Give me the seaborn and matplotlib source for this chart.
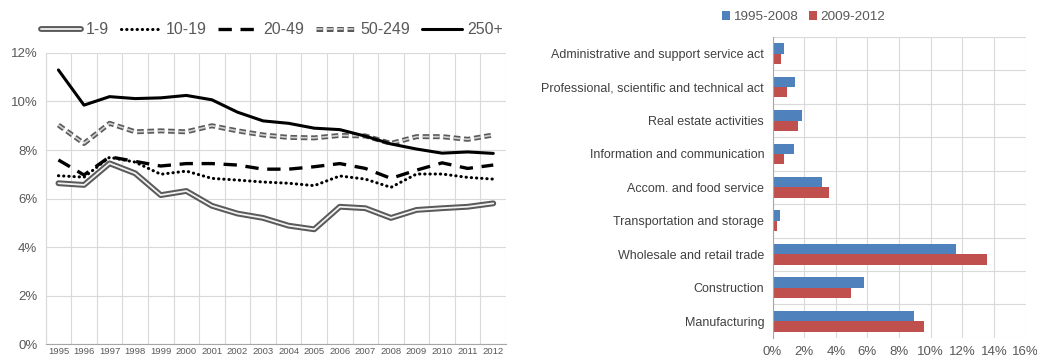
import numpy as np
import pandas as pd
import matplotlib
matplotlib.use("Agg")
import matplotlib.pyplot as plt
import matplotlib.patheffects as pe
from matplotlib.ticker import FixedLocator, FuncFormatter
import seaborn as sns

# ---------------- data ----------------
years = list(range(1995, 2013))
s_1_9 = [6.63, 6.56, 7.45, 7.04, 6.14, 6.31, 5.70, 5.38, 5.20, 4.88, 4.73, 5.66, 5.60, 5.20, 5.53, 5.60, 5.66, 5.80]
s_10_19 = [6.94, 6.88, 7.70, 7.50, 7.00, 7.13, 6.83, 6.76, 6.68, 6.63, 6.53, 6.93, 6.80, 6.46, 7.01, 7.01, 6.87, 6.80]
s_20_49 = [7.59, 6.97, 7.72, 7.53, 7.34, 7.44, 7.44, 7.38, 7.21, 7.21, 7.31, 7.44, 7.24, 6.83, 7.17, 7.47, 7.24, 7.38]
s_50_249 = [9.03, 8.27, 9.10, 8.75, 8.79, 8.75, 9.00, 8.79, 8.62, 8.52, 8.50, 8.60, 8.58, 8.27, 8.55, 8.55, 8.44, 8.62]
s_250 = [11.30, 9.85, 10.20, 10.12, 10.15, 10.25, 10.07, 9.56, 9.20, 9.10, 8.90, 8.84, 8.57, 8.25, 8.04, 7.87, 7.92, 7.86]
series_labels = ["1-9", "10-19", "20-49", "50-249", "250+"]

sectors = ["Administrative and support service act",
           "Professional, scientific and technical act",
           "Real estate activities",
           "Information and communication",
           "Accom. and food service",
           "Transportation and storage",
           "Wholesale and retail trade",
           "Construction",
           "Manufacturing"]
p_1995_2008 = [0.70, 1.41, 1.86, 1.33, 3.15, 0.47, 11.59, 5.77, 8.92]
p_2009_2012 = [0.53, 0.91, 1.61, 0.70, 3.55, 0.27, 13.53, 4.93, 9.58]
period_labels = ["1995-2008", "2009-2012"]

# ---------------- style ----------------
sns.set_style("white")
plt.rcParams["font.family"] = ["Liberation Sans", "DejaVu Sans"]
TXT = "#595959"
GRID = "#d9d9d9"

fig = plt.figure(figsize=(10.37, 3.58), dpi=100)
ax1 = fig.add_axes([0.044, 0.039, 0.444, 0.813])
ax2 = fig.add_axes([0.745, 0.056, 0.244, 0.841])

# ---------------- left: line chart ----------------
handles = []
sns.lineplot(x=years, y=s_1_9, ax=ax1, color="#f2f2f2", lw=1.3,
             path_effects=[pe.Stroke(linewidth=4.2, foreground="#5a5a5a"), pe.Normal()])
handles.append(ax1.lines[-1])
sns.lineplot(x=years, y=s_10_19, ax=ax1, color="black", lw=2.2,
             linestyle=(0, (0.1, 1.6)), dash_capstyle="round")
handles.append(ax1.lines[-1])
sns.lineplot(x=years, y=s_20_49, ax=ax1, color="black", lw=2.4,
             linestyle=(0, (4, 2.6)))
handles.append(ax1.lines[-1])
sns.lineplot(x=years, y=s_50_249, ax=ax1, color="#d0d0d0", lw=1.2,
             linestyle=(0, (4, 2.2)),
             path_effects=[pe.Stroke(linewidth=3.6, foreground="#5a5a5a"), pe.Normal()])
handles.append(ax1.lines[-1])
sns.lineplot(x=years, y=s_250, ax=ax1, color="black", lw=2.2)
handles.append(ax1.lines[-1])

ax1.set_xlim(years[0] - 0.5, years[-1] + 0.5)
ax1.set_ylim(0, 12)
ax1.set_xticks(years)
ax1.set_xticklabels([str(y) for y in years], fontsize=6.8, color=TXT)
ax1.xaxis.set_minor_locator(FixedLocator(np.arange(years[0] - 0.5, years[-1] + 1, 1.0)))
ax1.set_yticks(range(0, 13, 2))
ax1.yaxis.set_major_formatter(FuncFormatter(lambda v, p: f"{int(v)}%"))
ax1.tick_params(axis="y", labelsize=9.5, labelcolor=TXT, length=0, pad=6)
ax1.tick_params(axis="x", which="major", length=0, pad=2)
ax1.tick_params(axis="x", which="minor", length=3, color="#a6a6a6", direction="out")
ax1.grid(True, axis="y", which="major", color=GRID, lw=0.8)
ax1.grid(True, axis="x", which="minor", color=GRID, lw=0.8)
for s in ["top", "right"]:
    ax1.spines[s].set_visible(False)
ax1.spines["left"].set_color(GRID)
ax1.spines["bottom"].set_color("#a6a6a6")
ax1.set_xlabel("")
ax1.set_ylabel("")
ax1.set_axisbelow(True)

fig.legend(handles, series_labels, loc="center", bbox_to_anchor=(0.262, 0.917),
           ncol=5, frameon=False, fontsize=11.5, handlelength=2.5,
           columnspacing=0.75, handletextpad=0.3, labelcolor=TXT)

# ---------------- right: bar chart ----------------
df = pd.DataFrame({
    "sector": sectors * 2,
    "value": p_1995_2008 + p_2009_2012,
    "period": [period_labels[0]] * len(sectors) + [period_labels[1]] * len(sectors),
})
sns.barplot(data=df, y="sector", x="value", hue="period", order=sectors,
            hue_order=period_labels, palette=["#4f81bd", "#c0504d"],
            orient="h", width=0.62, ax=ax2, saturation=1.0, legend=True,
            linewidth=0)
bh, bl = ax2.get_legend_handles_labels()
ax2.get_legend().remove()
fig.legend(bh, bl, loc="center", bbox_to_anchor=(0.775, 0.952), ncol=2,
           frameon=False, fontsize=9.7, handlelength=0.6, handleheight=0.6,
           handletextpad=0.25, columnspacing=0.8, labelcolor=TXT)

ax2.set_xlim(0, 16)
ax2.set_ylim(len(sectors) - 0.5, -0.5)
ax2.set_xticks(range(0, 17, 2))
ax2.xaxis.set_major_formatter(FuncFormatter(lambda v, p: f"{int(v)}%"))
ax2.yaxis.set_minor_locator(FixedLocator(np.arange(-0.5, len(sectors), 1.0)))
ax2.tick_params(axis="x", labelsize=9.5, labelcolor=TXT, length=0, pad=6)
ax2.tick_params(axis="y", which="major", labelsize=9, labelcolor="#404040", length=0, pad=6)
ax2.tick_params(axis="y", which="minor", length=4, color="#a6a6a6", direction="out")
ax2.grid(True, axis="x", which="major", color=GRID, lw=0.8)
ax2.grid(True, axis="y", which="minor", color=GRID, lw=0.8)
for s in ["top", "right", "bottom"]:
    ax2.spines[s].set_visible(False)
ax2.spines["left"].set_color("#a6a6a6")
ax2.set_xlabel("")
ax2.set_ylabel("")
ax2.set_axisbelow(True)

fig.savefig("out.png", dpi=100)
